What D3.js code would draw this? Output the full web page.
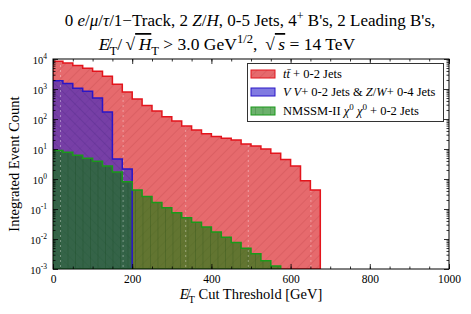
<!DOCTYPE html>
<html>
<head>
<meta charset="utf-8">
<script src="https://cdn.jsdelivr.net/npm/d3@7"></script>
<style>
  html, body { margin: 0; padding: 0; background: #fff; }
  svg { display: block; font-family: "Liberation Serif", "DejaVu Serif", serif; }
</style>
</head>
<body>
<svg id="chart" width="471" height="314"></svg>
<script>
// Histogram bins: 25 GeV wide, starting at 0
const BIN_WIDTH = 25;

// tt + 0-2 jets
const ttbarCounts = [8400, 7300, 6100, 4900, 3900, 2650, 1450, 800, 460, 280,
  185, 120, 86, 58, 43, 32, 26, 23, 20, 14.7,
  12.5, 10, 7.2, 4.5, 2.7, 0.88, 0.43];
// VV + 0-2 jets & Z/W + 0-4 jets
const vvCounts = [1880, 1520, 1050, 835, 500, 170, 4.6, 2.15];
// NMSSM-II signal
const nmssmCounts = [8.9, 7.8, 6.2, 4.9, 3.9, 2.7, 1.7, 0.81, 0.43, 0.26,
  0.166, 0.11, 0.075, 0.051, 0.036, 0.025, 0.017, 0.0114, 0.0077, 0.0049,
  0.0032, 0.0019, 0.00126];

const xTicks = [0, 200, 400, 600, 800, 1000];
const yTicks = [1e-3, 1e-2, 1e-1, 1e0, 1e1, 1e2, 1e3, 1e4];
const yExps = [-3, -2, -1, 0, 1, 2, 3, 4];

const margin = { left: 53, right: 22, top: 59, bottom: 45 };
const W = 471, H = 314;

const svg = d3.select('#chart');
const x = d3.scaleLinear().domain([0, 1000]).range([margin.left, W - margin.right]);
const y = d3.scaleLog().domain([1e-3, 1e4]).range([H - margin.bottom, margin.top]);
const yBase = y.range()[0];

// Patterns
const defs = svg.append('defs');
function hatch(id, angle, color, size) {
  const p = defs.append('pattern').attr('id', id).attr('patternUnits', 'userSpaceOnUse')
    .attr('width', size).attr('height', size)
    .attr('patternTransform', `rotate(${angle})`);
  p.append('line').attr('x1', 0).attr('y1', 0).attr('x2', 0).attr('y2', size)
    .attr('stroke', color).attr('stroke-width', 1);
}
hatch('hRed', 45, 'rgba(150,30,35,0.28)', 7);
hatch('hBlue', -45, 'rgba(30,10,90,0.28)', 7);
hatch('hGreen', 0, 'rgba(0,50,0,0.33)', 7.5);

// seams in the hatch rendering (faint dotted white columns)
const seam = defs.append('pattern').attr('id', 'seam').attr('patternUnits', 'userSpaceOnUse')
  .attr('x', 60).attr('y', 0).attr('width', 62.6).attr('height', 5);
seam.append('rect').attr('x', 0).attr('y', 0).attr('width', 1).attr('height', 2)
  .attr('fill', 'rgba(255,255,255,0.35)');

defs.append('clipPath').attr('id', 'plotClip').append('rect')
  .attr('x', margin.left).attr('y', margin.top)
  .attr('width', x.range()[1] - margin.left).attr('height', yBase - margin.top);

function histPath(counts) {
  const pts = counts.map((v, i) => [i * BIN_WIDTH, v]);
  pts.push([counts.length * BIN_WIDTH, counts[counts.length - 1]]);
  const line = d3.line().x(d => x(d[0])).y(d => y(d[1])).curve(d3.curveStepAfter);
  const top = line(pts);
  const last = pts[pts.length - 1];
  return top + `L${x(last[0])},${yBase}L${x(0)},${yBase}Z`;
}

const series = [
  { counts: ttbarCounts, fill: 'rgba(218,36,40,0.68)', hatch: 'hRed', stroke: '#e3141c' },
  { counts: vvCounts, fill: 'rgba(45,35,205,0.60)', hatch: 'hBlue', stroke: '#2a16c8' },
  { counts: nmssmCounts, fill: 'rgba(10,125,10,0.60)', hatch: 'hGreen', stroke: '#1a9a1a' },
];

const plot = svg.append('g').attr('clip-path', 'url(#plotClip)');
series.forEach(s => {
  const d = histPath(s.counts);
  plot.append('path').attr('d', d).attr('fill', s.fill);
  plot.append('path').attr('d', d).attr('fill', `url(#${s.hatch})`);
});
plot.append('path').attr('d', histPath(ttbarCounts)).attr('fill', 'url(#seam)');
series.forEach(s => {
  plot.append('path').attr('d', histPath(s.counts)).attr('fill', 'none')
    .attr('stroke', s.stroke).attr('stroke-width', 1.5);
});

// Axes (ticks inward, mirrored)
const xMinor = d3.range(0, 1001, 50);
const yMinor = [];
yExps.slice(0, -1).forEach(e => { for (let k = 2; k <= 9; k++) yMinor.push(k * Math.pow(10, e)); });

function styleAxis(g) {
  g.select('.domain').remove();
  g.selectAll('.tick line').attr('stroke', '#000').attr('stroke-width', 0.8);
}
svg.append('g').attr('transform', `translate(0,${yBase})`)
  .call(d3.axisBottom(x).tickValues(xMinor).tickSizeInner(-2.5).tickFormat(''))
  .call(styleAxis);
svg.append('g').attr('transform', `translate(0,${margin.top})`)
  .call(d3.axisTop(x).tickValues(xMinor).tickSizeInner(-2.5).tickFormat(''))
  .call(styleAxis);
const xb = svg.append('g').attr('transform', `translate(0,${yBase})`)
  .call(d3.axisBottom(x).tickValues(xTicks).tickSizeInner(-5).tickPadding(6).tickFormat(d3.format('d')))
  .call(styleAxis);
xb.selectAll('text').attr('font-family', 'Liberation Serif').attr('font-size', 11.5).attr('fill', '#000');
svg.append('g').attr('transform', `translate(0,${margin.top})`)
  .call(d3.axisTop(x).tickValues(xTicks).tickSizeInner(-5).tickFormat(''))
  .call(styleAxis);

svg.append('g').attr('transform', `translate(${margin.left},0)`)
  .call(d3.axisLeft(y).tickValues(yMinor).tickSizeInner(-2.5).tickFormat(''))
  .call(styleAxis);
svg.append('g').attr('transform', `translate(${x.range()[1]},0)`)
  .call(d3.axisRight(y).tickValues(yMinor).tickSizeInner(-2.5).tickFormat(''))
  .call(styleAxis);
const yl = svg.append('g').attr('transform', `translate(${margin.left},0)`)
  .call(d3.axisLeft(y).tickValues(yTicks).tickSizeInner(-5).tickPadding(6).tickFormat(''))
  .call(styleAxis);
svg.append('g').attr('transform', `translate(${x.range()[1]},0)`)
  .call(d3.axisRight(y).tickValues(yTicks).tickSizeInner(-5).tickFormat(''))
  .call(styleAxis);
yl.selectAll('.tick').each(function (d, i) {
  const t = d3.select(this).select('text')
    .attr('font-family', 'Liberation Serif').attr('fill', '#000').attr('font-size', 10.5)
    .attr('x', -6).attr('dy', '0.45em');
  t.append('tspan').text('10');
  t.append('tspan').attr('dy', -5).attr('font-size', 7.5).text(String(yExps[i]));
});

// Frame
svg.append('rect').attr('x', margin.left).attr('y', margin.top)
  .attr('width', x.range()[1] - margin.left).attr('height', yBase - margin.top)
  .attr('fill', 'none').attr('stroke', '#000').attr('stroke-width', 1);

// Rich text helper: segments [text, flags]; flags: i=italic, sub, sup, ol=overline
function rich(sel, segs, size) {
  let shift = 0;
  segs.forEach(([t, f = '']) => {
    const ts = sel.append('tspan').text(t);
    let target = 0, fs = size;
    if (f.includes('sub')) { target = size * 0.28; fs = size * 0.72; }
    if (f.includes('sup')) { target = -size * 0.38; fs = size * 0.72; }
    if (target !== shift) { ts.attr('dy', target - shift); shift = target; }
    ts.attr('font-size', fs);
    if (f.includes('i')) ts.attr('font-style', 'italic');
    if (f.includes('ol')) ts.attr('text-decoration', 'overline');
  });
}

// Title
const t1 = svg.append('text').attr('x', 250).attr('y', 26).attr('text-anchor', 'middle');
rich(t1, [['0 '], ['e', 'i'], ['/'], ['μ', 'i'], ['/'], ['τ', 'i'], ['/1−Track, 2 '], ['Z', 'i'], ['/'], ['H', 'i'],
  [', 0-5 Jets, 4'], ['+', 'sup'], [' B\'s, 2 Leading B\'s,']], 17);
const t2 = svg.append('text').attr('x', 227).attr('y', 50).attr('text-anchor', 'middle');
rich(t2, [['E\u0338', 'i'], ['T', 'sub'], ['/\u2009√'], ['\u2009H', 'i ol'], ['T', 'sub'], [' > 3.0 GeV'], ['1/2', 'sup'],
  [', \u2009√'], ['\u2009s', 'i ol'], [' = 14 TeV']], 17.5);

// Axis labels
const xl = svg.append('text').attr('x', 251).attr('y', 299).attr('text-anchor', 'middle');
rich(xl, [['E\u0338', 'i'], ['T', 'sub'], [' Cut Threshold [GeV]']], 14.5);
svg.append('text').attr('transform', `translate(19,${(margin.top + yBase) / 2}) rotate(-90)`)
  .attr('text-anchor', 'middle').attr('font-size', 14.5).text('Integrated Event Count');

// Legend
const legendLabels = [
  [['t', 'i'], ['t\u0304', 'i'], [' + 0-2 Jets']],
  [['V V', 'i'], ['+ 0-2 Jets & '], ['Z', 'i'], ['/'], ['W', 'i'], ['+ 0-4 Jets']],
  [['NMSSM-II '], ['χ', 'i'], ['0', 'sup'], [' '], ['χ', 'i'], ['0', 'sup'], [' + 0-2 Jets']],
];
const legendRows = [74, 92, 111];
const lg = svg.append('g');
lg.append('rect').attr('x', 247.5).attr('y', 63.5).attr('width', 196).attr('height', 58)
  .attr('fill', '#fff').attr('stroke', '#333').attr('stroke-width', 1);
series.forEach((s, i) => {
  const cy = legendRows[i];
  lg.append('rect').attr('x', 251).attr('y', cy - 4).attr('width', 24).attr('height', 8)
    .attr('fill', s.fill);
  if (i !== 1) lg.append('rect').attr('x', 251).attr('y', cy - 4).attr('width', 24).attr('height', 8)
    .attr('fill', `url(#${s.hatch})`);
  lg.append('rect').attr('x', 251).attr('y', cy - 4).attr('width', 24).attr('height', 8)
    .attr('fill', 'none').attr('stroke', s.stroke).attr('stroke-width', 1);
  const tx = lg.append('text').attr('x', 283).attr('y', cy + 4);
  rich(tx, legendLabels[i], 12.5);
});
</script>
</body>
</html>
